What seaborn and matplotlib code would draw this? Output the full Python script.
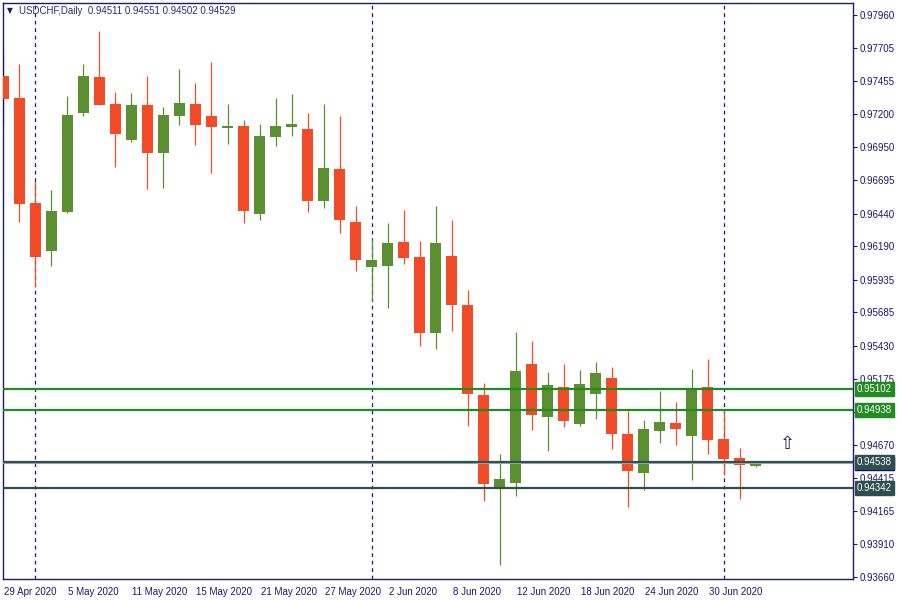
import numpy as np
import pandas as pd
import seaborn as sns
import matplotlib.pyplot as plt
import matplotlib.transforms as mtransforms

sns.set_style("white")
plt.rcParams['font.family'] = ['Liberation Sans', 'DejaVu Sans']

# daily bars, 29 Apr 2020 .. 3 Jul 2020
dates = pd.bdate_range("2020-04-29", "2020-07-03")

opens = [0.97493, 0.97325, 0.96523, 0.96156, 0.96452, 0.97212, 0.97485, 0.97279, 0.97005, 0.97271,
         0.96906, 0.97189, 0.97279, 0.97187, 0.97097, 0.97110, 0.96439, 0.97028, 0.97105, 0.97087,
         0.96538, 0.96781, 0.96375, 0.96033, 0.96041, 0.96222, 0.96107, 0.95528, 0.96115, 0.95740,
         0.95051, 0.94349, 0.94380, 0.95288, 0.94885, 0.95112, 0.94831, 0.95061, 0.95181, 0.94753,
         0.94456, 0.94778, 0.94837, 0.94740, 0.95112, 0.94714, 0.94569, 0.94511]
highs = [0.97671, 0.97587, 0.96689, 0.96620, 0.97340, 0.97587, 0.97838, 0.97371, 0.97363, 0.97493,
         0.97256, 0.97547, 0.97442, 0.97603, 0.97279, 0.97156, 0.97126, 0.97325, 0.97355, 0.97210,
         0.97279, 0.97187, 0.96500, 0.96248, 0.96368, 0.96467, 0.96230, 0.96498, 0.96391, 0.95855,
         0.95143, 0.94599, 0.95533, 0.95464, 0.95227, 0.95288, 0.95243, 0.95304, 0.95265, 0.94929,
         0.94860, 0.95082, 0.94998, 0.95250, 0.95327, 0.94936, 0.94645, 0.94551]
lows = [0.97113, 0.96378, 0.95876, 0.96041, 0.96447, 0.97187, 0.97270, 0.96799, 0.96990, 0.96630,
        0.96638, 0.97120, 0.96967, 0.96753, 0.96975, 0.96370, 0.96393, 0.96960, 0.97036, 0.96454,
        0.96485, 0.96293, 0.96003, 0.95771, 0.95719, 0.96056, 0.95428, 0.95405, 0.95543, 0.94816,
        0.94242, 0.93752, 0.94280, 0.94785, 0.94625, 0.94808, 0.94816, 0.94870, 0.94640, 0.94196,
        0.94326, 0.94686, 0.94671, 0.94403, 0.94602, 0.94441, 0.94257, 0.94502]
closes = [0.97317, 0.96516, 0.96110, 0.96460, 0.97195, 0.97493, 0.97273, 0.97051, 0.97271, 0.96906,
          0.97195, 0.97286, 0.97120, 0.97105, 0.97113, 0.96462, 0.97034, 0.97110, 0.97126, 0.96538,
          0.96789, 0.96393, 0.96087, 0.96085, 0.96215, 0.96102, 0.95528, 0.96215, 0.95742, 0.95061,
          0.94372, 0.94408, 0.95235, 0.94900, 0.95128, 0.94854, 0.95135, 0.95220, 0.94755, 0.94472,
          0.94791, 0.94844, 0.94793, 0.95107, 0.94709, 0.94564, 0.94518, 0.94529]

price_ticks = [0.97960, 0.97705, 0.97455, 0.97200, 0.96950, 0.96695, 0.96440, 0.96190, 0.95935,
               0.95685, 0.95430, 0.95175, 0.94920, 0.94670, 0.94415, 0.94165, 0.93910, 0.93660]
hidden_ticks = [0.94920]  # sits under the 0.94938 level box

# horizontal levels drawn on the chart
green_levels = [0.95102, 0.94938]
dark_levels = [0.94538, 0.94342]
bid = 0.94529

arrow_bar, arrow_price = 48.97, 0.94676

df = pd.DataFrame({"date": dates, "open": opens, "high": highs, "low": lows, "close": closes})
df["x"] = np.arange(len(df))
df["up"] = df["close"] >= df["open"]

BULL = "#5b9030"
BEAR = "#f24b27"
NAVY = "#1a1a6e"
GREEN = "#228b22"
SLATE = "#2f4f4f"

fig = plt.figure(figsize=(9, 6), dpi=100)
ax = fig.add_axes([3 / 900, 21 / 600, 850 / 900, 576 / 600])

# month separators
month_start = df.index[df["date"].dt.month != df["date"].dt.month.shift()][1:]
for i in month_start:
    ax.axvline(i, color=NAVY, lw=0.9, ls=(0, (3, 3)), zorder=1)

colors = np.where(df["up"], BULL, BEAR)
ax.vlines(df["x"], df["low"], df["high"], colors=colors, lw=0.9, zorder=2)
body_lo = np.minimum(df["open"], df["close"])
body_h = np.maximum(np.abs(df["close"] - df["open"]), 0.00002)
ax.bar(df["x"], body_h, bottom=body_lo, width=0.69, color=colors, lw=0, zorder=3)

for lv in green_levels:
    ax.axhline(lv, color=GREEN, lw=1.6, zorder=4)
for lv in dark_levels:
    ax.axhline(lv, color=SLATE, lw=1.6, zorder=4)
ax.axhline(bid, color="#9aa0a4", lw=0.8, zorder=4)

ax.text(arrow_bar, arrow_price, "\u21e7", family="DejaVu Sans", fontsize=13,
        color="#2a1040", ha="center", va="center", zorder=5)

ax.set_xlim(-0.03, 53.09)
ax.set_ylim(0.93645, 0.98052)

for s in ax.spines.values():
    s.set_color(NAVY)
    s.set_linewidth(1.0)

ax.yaxis.tick_right()
ax.set_yticks(price_ticks)
ax.set_yticklabels(["" if v in hidden_ticks else f"{v:.5f}" for v in price_ticks])
ax.tick_params(axis="y", direction="out", length=3, width=0.8, pad=2,
               color=NAVY, labelcolor=NAVY, labelsize=7)

tick_idx = df["x"][::4]
ax.set_xticks(tick_idx)
ax.set_xticklabels([f"{d.day} {d:%b %Y}" for d in df["date"][::4]])
ax.tick_params(axis="x", direction="out", length=3, width=0.8, pad=3,
               color=NAVY, labelcolor=NAVY, labelsize=7)
for lab in ax.get_xticklabels():
    lab.set_horizontalalignment("left")
    lab.set_transform(lab.get_transform() + mtransforms.ScaledTranslation(1 / 100, 0, fig.dpi_scale_trans))

# price labels on the right scale
ytr = ax.get_yaxis_transform()
lab_x = 1 + 4 / 850


def price_box(val, fc, z=6):
    ax.text(lab_x, val, f"{val:.5f}", transform=ytr, fontsize=7, color="white",
            ha="left", va="center", zorder=z, clip_on=False,
            bbox=dict(boxstyle="square,pad=0.2", fc=fc, ec=fc))


price_box(bid, "#000080", z=6)
for lv in green_levels:
    price_box(lv, GREEN, z=7)
for lv in dark_levels:
    price_box(lv, SLATE, z=7)

ax.grid(False)

fig.text(7 / 900, 1 - 11 / 600, "\u25bc", family="DejaVu Sans", fontsize=5.5, color=NAVY, va="center")
fig.text(19 / 900, 1 - 11 / 600,
         f"USDCHF,Daily  {opens[-1]:.5f} {highs[-1]:.5f} {lows[-1]:.5f} {closes[-1]:.5f}",
         fontsize=7, color="#26307a", va="center")

fig.savefig("out.png", dpi=100)
